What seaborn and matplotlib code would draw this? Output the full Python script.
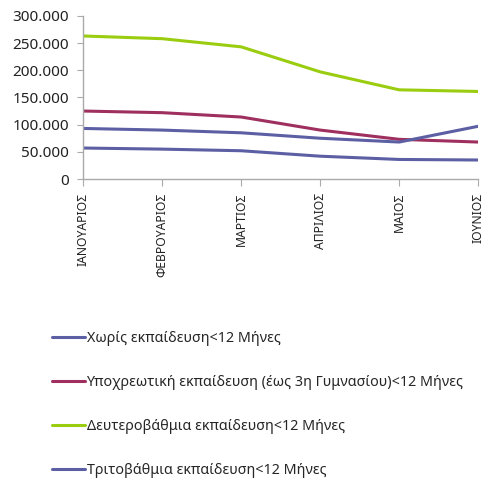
import pandas as pd
import matplotlib.pyplot as plt
import matplotlib.ticker as mticker
import seaborn as sns

# ==================== 数据 ====================
MONTHS = ["ΙΑΝΟΥΑΡΙΟΣ", "ΦΕΒΡΟΥΑΡΙΟΣ", "ΜΑΡΤΙΟΣ", "ΑΠΡΙΛΙΟΣ", "ΜΑΙΟΣ", "ΙΟΥΝΙΟΣ"]
SERIES = [
    "Χωρίς εκπαίδευση<12 Μήνες",
    "Υποχρεωτική εκπαίδευση (έως 3η Γυμνασίου)<12 Μήνες",
    "Δευτεροβάθμια εκπαίδευση<12 Μήνες",
    "Τριτοβάθμια εκπαίδευση<12 Μήνες",
]
no_edu = [57000, 55000, 52000, 42000, 36000, 35000]
compulsory = [125000, 122000, 114000, 90000, 73000, 68000]
secondary = [263000, 258000, 243000, 197000, 164000, 161000]
tertiary = [93000, 90000, 85000, 75000, 68000, 97000]
COLORS = ["#5C5FA3", "#9E2F5E", "#9ACD10", "#5C5FA3"]

sns.set_style("white")
plt.rcParams['font.family'] = ['Noto Sans', 'DejaVu Sans']

df = pd.DataFrame({
    "month": MONTHS * 4,
    "value": no_edu + compulsory + secondary + tertiary,
    "series": [s for s in SERIES for _ in MONTHS],
})
df["x"] = df["month"].map({m: i for i, m in enumerate(MONTHS)})

fig = plt.figure(figsize=(4.89, 4.80), dpi=100)
ax = fig.add_axes([0.170, 0.627, 0.808, 0.340])
sns.lineplot(data=df, x="x", y="value", hue="series", hue_order=SERIES,
             palette=COLORS, linewidth=2.2, ax=ax, legend=False)

ax.set_xlim(0, 5)
ax.set_ylim(0, 300000)
ax.set_yticks(range(0, 300001, 50000))
ax.yaxis.set_major_formatter(mticker.FuncFormatter(lambda v, p: f"{int(v):,}".replace(",", ".")))
ax.set_xticks(range(len(MONTHS)))
ax.set_xticklabels(MONTHS, rotation=90, fontsize=8.8, color="#222222")
ax.tick_params(axis="y", labelsize=11, colors="#222222", length=4, color="#aaaaaa",
               direction="out", pad=6)
ax.tick_params(axis="x", length=5, color="#aaaaaa", direction="out", pad=5)
ax.tick_params(axis="both", which="both", bottom=True, left=True)
for side in ["top", "right"]:
    ax.spines[side].set_visible(False)
for side in ["left", "bottom"]:
    ax.spines[side].set_color("#aaaaaa")
    ax.spines[side].set_linewidth(1)
ax.set_xlabel("")
ax.set_ylabel("")

handles = [plt.Line2D([], [], color=c, linewidth=2.2) for c in COLORS]
fig.legend(handles, SERIES, loc="upper left", bbox_to_anchor=(0.095, 0.322),
           frameon=False, fontsize=10.3, handlelength=2.3, handletextpad=0.1,
           labelspacing=2.03, borderaxespad=0)

fig.savefig("out.png", dpi=100)
